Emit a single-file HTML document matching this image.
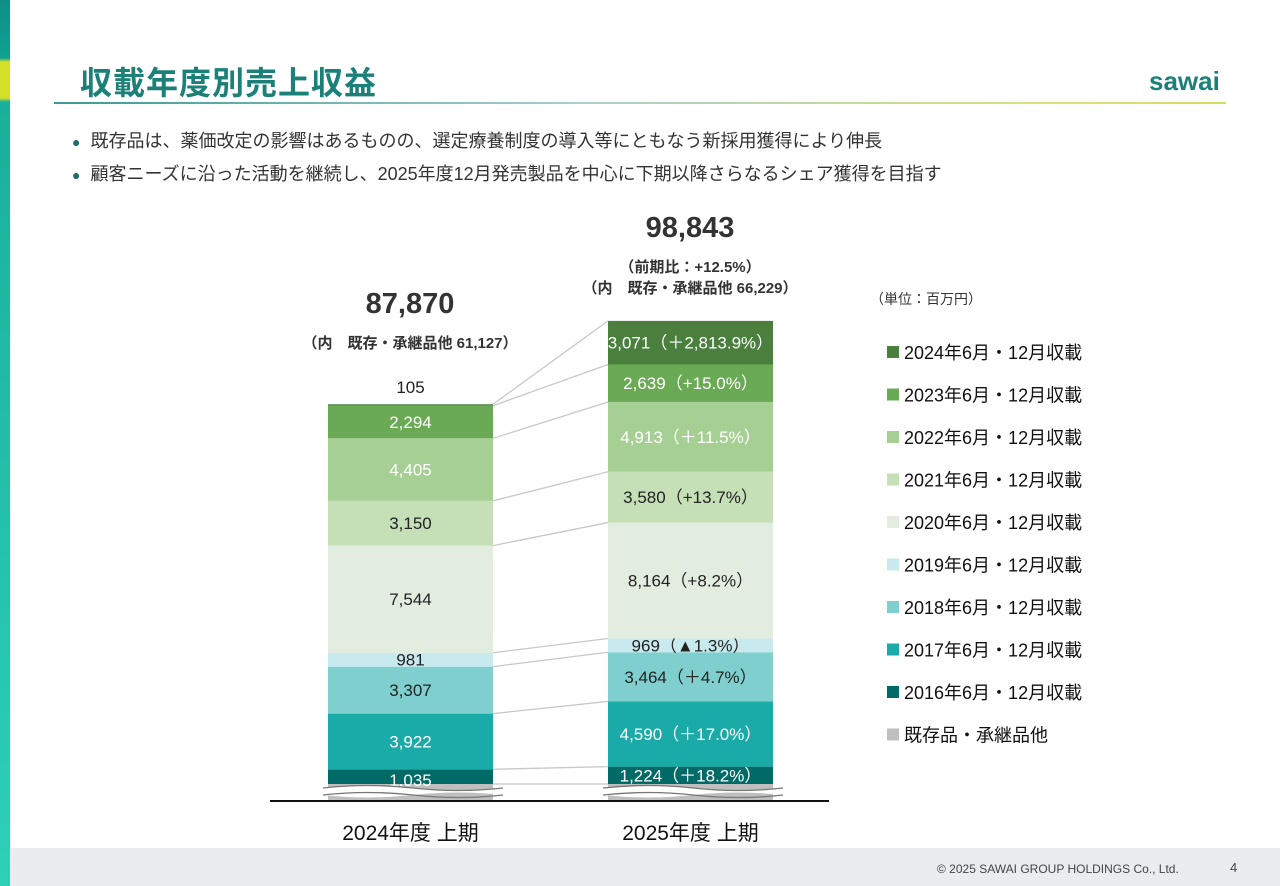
<!DOCTYPE html>
<html><head><meta charset="utf-8">
<style>
body{margin:0;width:1280px;height:886px;overflow:hidden;background:#fff;font-family:"Liberation Sans","Noto Sans CJK JP",sans-serif;position:relative}
.abs{position:absolute}
</style></head>
<body>
<div class="abs" style="left:0;top:0;width:10px;height:886px;background:linear-gradient(#0e8f88 0,#0fa192 58px,#d3e02a 62px,#d3e02a 98px,#19b09a 102px,#2ed0b8 886px)"></div>
<div class="abs" style="left:80px;top:58px;font-size:32px;font-weight:bold;color:#1b8078;letter-spacing:1px">収載年度別売上収益</div>
<div class="abs" style="left:54px;top:102px;width:1172px;height:2px;background:linear-gradient(90deg,#3c9b94,#a9cfcb 45%,#d9e27a 85%,#d3dd5c)"></div>
<div class="abs" style="left:1149px;top:66px;font-size:26px;font-weight:bold;color:#1b8078">sawai</div>
<div class="abs" style="left:72px;top:127px;font-size:18px;color:#333"><span style="color:#1b6e6a;font-size:14px">●</span>&nbsp; 既存品は、薬価改定の影響はあるものの、選定療養制度の導入等にともなう新採用獲得により伸長</div>
<div class="abs" style="left:72px;top:160px;font-size:18px;color:#333"><span style="color:#1b6e6a;font-size:14px">●</span>&nbsp; 顧客ニーズに沿った活動を継続し、2025年度12月発売製品を中心に下期以降さらなるシェア獲得を目指す</div>

<div class="abs" style="left:330px;top:288px;width:160px;text-align:center;font-size:29px;font-weight:bold;color:#333">87,870</div>
<div class="abs" style="left:250px;top:332px;width:320px;text-align:center;font-size:15px;font-weight:bold;color:#333">（内　既存・承継品他 61,127）</div>
<div class="abs" style="left:610px;top:212px;width:160px;text-align:center;font-size:29px;font-weight:bold;color:#333">98,843</div>
<div class="abs" style="left:590px;top:256px;width:200px;text-align:center;font-size:15px;font-weight:bold;color:#333">（前期比：+12.5%）</div>
<div class="abs" style="left:530px;top:277px;width:320px;text-align:center;font-size:15px;font-weight:bold;color:#333">（内　既存・承継品他 66,229）</div>
<div class="abs" style="left:870px;top:289px;font-size:14px;color:#333">（単位：百万円）</div>

<svg class="abs" style="left:0;top:0" width="1280" height="886" id="chart"></svg>

<div class="abs" style="left:10px;top:848px;width:1270px;height:38px;background:#e9edf0"></div>
<div class="abs" style="left:937px;top:862px;font-size:12px;color:#444">© 2025 SAWAI GROUP HOLDINGS Co., Ltd.</div>
<div class="abs" style="left:1230px;top:860px;font-size:13px;color:#444">4</div>

<script>
const categories=["2024年度 上期","2025年度 上期"];
const seriesNames=["2016年6月・12月収載","2017年6月・12月収載","2018年6月・12月収載","2019年6月・12月収載","2020年6月・12月収載","2021年6月・12月収載","2022年6月・12月収載","2023年6月・12月収載","2024年6月・12月収載"];
const values2024=[1035,3922,3307,981,7544,3150,4405,2294,105];
const values2025=[1224,4590,3464,969,8164,3580,4913,2639,3071];
const growth2025=["＋18.2%","＋17.0%","＋4.7%","▲1.3%","+8.2%","+13.7%","＋11.5%","+15.0%","＋2,813.9%"];
const colors=["#006b66","#1aaba8","#80cfcf","#c8eaee","#e2ede0","#c5dfb6","#a6cf94","#6aaa55","#4a7f3e"];
const whiteText=[true,true,false,false,false,false,true,true,true];
const svg=document.getElementById('chart');
const NS='http://www.w3.org/2000/svg';
const base=784, pxPer=14.2/1000;
function y(v){return base-v*pxPer;}
const barX=[328,608], barW=165;
function mk(t,a){const e=document.createElementNS(NS,t);for(const k in a)e.setAttribute(k,a[k]);svg.appendChild(e);return e;}
const tops=[[],[]];
[values2024,values2025].forEach((vals,bi)=>{
  const g=mk('rect',{x:barX[bi],y:base,width:barW,height:17,fill:'#bfbfbf'});
  
  
  let cum=0;
  vals.forEach((v,i)=>{
    const y0=y(cum), y1=y(cum+v); cum+=v;
    tops[bi].push(y1);
    const r=mk('rect',{x:barX[bi],y:y1,width:barW,height:y0-y1,fill:colors[i]});
    
    
    let label=v.toLocaleString('en-US');
    if(bi===1) label+='（'+growth2025[i]+'）';
    let ty=(y0+y1)/2+6, fill=whiteText[i]?'#fff':'#222';
    if(bi===0&&i===8){ty=y1-11;fill='#222';}
    if(bi===0&&i===0){ty=y0+2;}
    const t=mk('text',{x:barX[bi]+barW/2,y:ty,'text-anchor':'middle','font-size':'17',fill:fill,'font-family':'Liberation Sans, Noto Sans CJK JP, sans-serif'});
    t.textContent=label;
    
    
  });
});
tops[0].forEach((t,i)=>{
  const l=mk('line',{x1:barX[0]+barW,y1:t,x2:barX[1],y2:tops[1][i],stroke:'#c8c8c8','stroke-width':1.3});
  
  
});
const lb=mk('line',{x1:barX[0]+barW,y1:base,x2:barX[1],y2:base,stroke:'#c8c8c8','stroke-width':1.3});


barX.forEach(bx=>{
  const x0=bx-5, x1=bx+barW+10;
  const band=mk('path',{d:`M${x0},788 Q${x0+45},783 ${x0+90},788 T${x1},788 L${x1},795 Q${x1-45},790 ${x1-90},795 T${x0},795 Z`,fill:'#fff'});
  
  
  const w1=mk('path',{d:`M${x0},788 Q${x0+45},783 ${x0+90},788 T${x1},788`,fill:'none',stroke:'#777','stroke-width':1.3});
  
  
  const w2=mk('path',{d:`M${x0},795 Q${x0+45},790 ${x0+90},795 T${x1},795`,fill:'none',stroke:'#777','stroke-width':1.3});
  
  
});
const ax=mk('line',{x1:270,y1:801,x2:829,y2:801,stroke:'#111','stroke-width':2});


categories.forEach((c,i)=>{
  const t=mk('text',{x:barX[i]+barW/2,y:840,'text-anchor':'middle','font-size':'21',fill:'#111','font-family':'Liberation Sans, Noto Sans CJK JP, sans-serif'});
  t.textContent=c;
  
  
});
const legNames=seriesNames.slice().reverse().concat(["既存品・承継品他"]);
const legColors=colors.slice().reverse().concat(["#bfbfbf"]);
legNames.forEach((n,i)=>{
  const ly=352+i*42.5;
  const s=mk('rect',{x:887,y:ly-6,width:12,height:12,fill:legColors[i]});
  
  
  const t=mk('text',{x:904,y:ly+7,'font-size':'18',fill:'#111','font-family':'Liberation Sans, Noto Sans CJK JP, sans-serif'});
  t.textContent=n;
  
  
});
</script>
</body></html>
